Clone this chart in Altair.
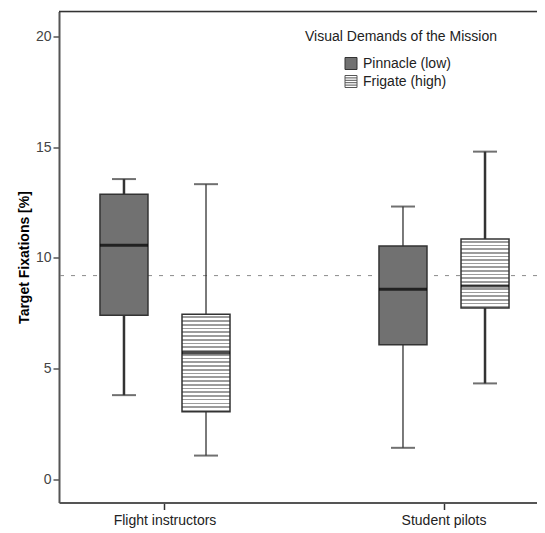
import altair as alt
import pandas as pd

# ---- data ----
groups = ["Flight instructors", "Flight instructors", "Student pilots", "Student pilots"]
missions = ["Pinnacle (low)", "Frigate (high)", "Pinnacle (low)", "Frigate (high)"]
whisker_low = [3.80, 1.07, 1.42, 4.33]
q1 = [7.41, 3.05, 6.08, 7.74]
median = [10.57, 5.71, 8.58, 8.73]
q3 = [12.88, 7.45, 10.54, 10.85]
whisker_high = [13.56, 13.33, 12.32, 14.80]
reference_line = [9.2]
group_order = ["Flight instructors", "Student pilots"]
mission_order = ["Pinnacle (low)", "Frigate (high)"]
y_ticks = [0, 5, 10, 15, 20]
legend_title = "Visual Demands of the Mission"
y_title = "Target Fixations [%]"

df = pd.DataFrame({
    "group": groups, "mission": missions, "low": whisker_low, "q1": q1,
    "median": median, "q3": q3, "high": whisker_high,
})

W, H = 478, 491
Y_DOMAIN = [-1.05, 21.13]
PX_PER_UNIT = H / (Y_DOMAIN[1] - Y_DOMAIN[0])
FONT = "Arial, Liberation Sans, sans-serif"

x_enc = alt.X("group:N", sort=group_order, title=None,
              scale=alt.Scale(domain=group_order, paddingInner=0.412, paddingOuter=0.0626,
                              align=0.686, round=False),
              axis=alt.Axis(labelAngle=0, labelFontSize=14, labelColor="#222", labelFont=FONT,
                            domainColor="#555", domainWidth=2, tickColor="#333", tickSize=7,
                            tickWidth=1.5, labelPadding=4))
xo_enc = alt.XOffset("mission:N", sort=mission_order,
                     scale=alt.Scale(domain=mission_order, paddingInner=0, paddingOuter=0))
y_scale = alt.Scale(domain=Y_DOMAIN, nice=False, zero=False)
y_axis = alt.Axis(values=y_ticks, grid=False, domainColor="#555", domainWidth=2,
                  tickColor="#555", tickSize=6, tickWidth=1.5, labelFontSize=14,
                  labelColor="#444", labelFont=FONT, labelPadding=2,
                  title=y_title, titleFontSize=14, titleFontWeight="bold", titleColor="#000",
                  titleFont=FONT, titleX=-28)

base = alt.Chart(df)

thick_cond = ("(datum.group=='Flight instructors' && datum.mission=='Pinnacle (low)') || "
              "(datum.group=='Student pilots' && datum.mission=='Frigate (high)')")

ref = alt.Chart(pd.DataFrame({"ref": reference_line})).mark_rule(
    color="#8a8a8a", strokeDash=[4, 7], strokeWidth=1).encode(
    y=alt.Y("ref:Q", scale=y_scale, axis=y_axis))

wlow = base.mark_rule(color="#333").encode(
    x=x_enc, xOffset=xo_enc,
    y=alt.Y("low:Q", scale=y_scale, axis=y_axis), y2="q1:Q",
    strokeWidth=alt.condition(thick_cond, alt.value(2.5), alt.value(1.3)))
whigh = base.mark_rule(color="#333").encode(
    x=x_enc, xOffset=xo_enc,
    y=alt.Y("q3:Q", scale=y_scale, axis=y_axis), y2="high:Q",
    strokeWidth=alt.condition(thick_cond, alt.value(2.5), alt.value(1.3)))
cap_low = base.mark_tick(size=24, thickness=2, color="#333").encode(
    x=x_enc, xOffset=xo_enc, y=alt.Y("low:Q", scale=y_scale, axis=y_axis))
cap_high = base.mark_tick(size=24, thickness=2, color="#333").encode(
    x=x_enc, xOffset=xo_enc, y=alt.Y("high:Q", scale=y_scale, axis=y_axis))

boxes = [
    base.transform_filter(alt.datum.mission == "Pinnacle (low)").mark_bar(
        size=48, fill="#717171", stroke="#333", strokeWidth=1.5).encode(
        x=x_enc, xOffset=xo_enc, y=alt.Y("q1:Q", scale=y_scale, axis=y_axis), y2="q3:Q")
]

for g, m, a, b in zip(groups, missions, q1, q3):
    if m != "Frigate (high)":
        continue
    n = max(1, round((b - a) * PX_PER_UNIT / 3.7))
    stops = []
    for i in range(n):
        s0 = i / n
        s1 = (i + 0.55) / n
        s2 = (i + 1) / n
        stops += [alt.GradientStop(offset=s0, color="#ffffff"),
                  alt.GradientStop(offset=s1, color="#ffffff"),
                  alt.GradientStop(offset=s1, color="#9c9c9c"),
                  alt.GradientStop(offset=s2, color="#9c9c9c")]
    grad = alt.LinearGradient(gradient="linear", stops=stops, x1=0, x2=0, y1=0, y2=1)
    boxes.append(
        base.transform_filter((alt.datum.group == g) & (alt.datum.mission == m)).mark_bar(
            size=48, fill=grad, stroke="#333", strokeWidth=1.5).encode(
            x=x_enc, xOffset=xo_enc, y=alt.Y("q1:Q", scale=y_scale, axis=y_axis), y2="q3:Q"))

med = base.mark_tick(size=48, thickness=3, color="#000").encode(
    x=x_enc, xOffset=xo_enc, y=alt.Y("median:Q", scale=y_scale, axis=y_axis))

square_path = "M-1,-1H1V1H-1Z"
striped_path = "M-1,-1H1V1H-1Z M-1,-0.6H1 M-1,-0.2H1 M-1,0.2H1 M-1,0.6H1"
leg = alt.Legend(title=None, orient="none", legendX=285, legendY=45, padding=0,
                 symbolOpacity=1, symbolSize=144, symbolStrokeWidth=1,
                 labelFontSize=14, labelColor="#222", labelFont=FONT,
                 labelOffset=5, rowPadding=2)
legend_pts = base.mark_point(filled=True, opacity=0, strokeWidth=1).encode(
    x=x_enc, xOffset=xo_enc, y=alt.Y("median:Q", scale=y_scale, axis=y_axis),
    fill=alt.Fill("mission:N", sort=mission_order,
                  scale=alt.Scale(domain=mission_order, range=["#717171", "#ffffff"]), legend=leg),
    stroke=alt.Stroke("mission:N", sort=mission_order,
                      scale=alt.Scale(domain=mission_order, range=["#333333", "#555555"]),
                      legend=leg),
    shape=alt.Shape("mission:N", sort=mission_order,
                    scale=alt.Scale(domain=mission_order, range=[square_path, striped_path]),
                    legend=leg))

leg_title = alt.Chart(pd.DataFrame({"t": [legend_title]})).mark_text(
    fontSize=14, color="#222", font=FONT, align="center", baseline="middle").encode(
    x=alt.value(342), y=alt.value(25.2), text="t:N")

top_border = alt.Chart(pd.DataFrame({"t": [legend_title]})).mark_rule(
    color="#333", strokeWidth=1.5).encode(x=alt.value(0), x2=alt.value(W), y=alt.value(0))

chart = alt.layer(ref, wlow, whigh, cap_low, cap_high, *boxes, med, legend_pts, leg_title,
                  top_border).properties(
    width=W, height=H,
    padding={"left": 51, "top": 3.5, "right": 0, "bottom": 30},
    autosize=alt.AutoSizeParams(type="none"),
).configure_view(stroke=None).configure(background="white")

chart.save("out.html", embed_options={"renderer": "svg", "actions": False})
